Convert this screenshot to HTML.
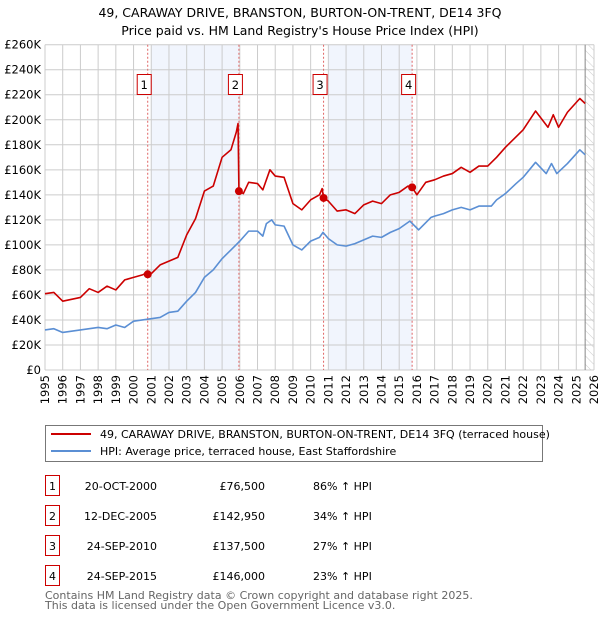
<!DOCTYPE html>
<html><head><meta charset="utf-8"><style>
body{margin:0;background:#fff;width:600px;height:620px;overflow:hidden;font-family:"Liberation Sans","DejaVu Sans",sans-serif;}
svg text{font-family:"DejaVu Sans","Liberation Sans",sans-serif;}
</style></head><body>
<svg id="chart" width="600" height="620">
<text x="300" y="17" text-anchor="middle" font-size="12.5">49, CARAWAY DRIVE, BRANSTON, BURTON-ON-TRENT, DE14 3FQ</text>
<text x="300" y="35" text-anchor="middle" font-size="12.5">Price paid vs. HM Land Registry's House Price Index (HPI)</text>
<defs><pattern id="hatch" width="6" height="6" patternUnits="userSpaceOnUse" patternTransform="rotate(-45)"><line x1="0" y1="0" x2="0" y2="6" stroke="#ccc" stroke-width="1"/></pattern></defs>
<g id="bg"></g><g id="grid"></g><g id="marks"></g><g id="axes"></g>
<g>
<rect x="45.5" y="425.5" width="497" height="36" fill="#fff" stroke="#777"/>
<line x1="51" y1="434" x2="91" y2="434" stroke="#cc0000" stroke-width="2"/>
<text x="100" y="438" font-size="11">49, CARAWAY DRIVE, BRANSTON, BURTON-ON-TRENT, DE14 3FQ (terraced house)</text>
<line x1="51" y1="451" x2="91" y2="451" stroke="#5b8fd4" stroke-width="2"/>
<text x="100" y="455" font-size="11">HPI: Average price, terraced house, East Staffordshire</text>
</g>
<g id="table" font-size="11"></g>
<text x="45" y="599" font-size="11" fill="#666">Contains HM Land Registry data © Crown copyright and database right 2025.</text>
<text x="45" y="609" font-size="11" fill="#666">This data is licensed under the Open Government Licence v3.0.</text>
</svg>
<script>
const hpiYears=[1995,1995.5,1996,1997,1998,1998.5,1999,1999.5,2000,2000.5,2001,2001.5,2002,2002.5,2003,2003.5,2004,2004.5,2005,2005.5,2006,2006.5,2007,2007.3,2007.5,2007.8,2008,2008.5,2009,2009.5,2010,2010.5,2010.7,2011,2011.5,2012,2012.5,2013,2013.5,2014,2014.5,2015,2015.6,2016.1,2016.8,2017,2017.5,2018,2018.5,2019,2019.5,2020.2,2020.5,2021,2021.6,2022,2022.7,2023.3,2023.6,2023.9,2024.5,2025.2,2025.5];
const hpiValues=[32,33,30,32,34,33,36,34,39,40,41,42,46,47,55,62,74,80,89,96,103,111,111,107,117,120,116,115,100,96,103,106,110,105,100,99,101,104,107,106,110,113,119,112,122,123,125,128,130,128,131,131,136,141,149,154,166,157,165,157,165,176,172];
const redYears=[1995,1995.5,1996,1997,1997.5,1998,1998.5,1999,1999.5,2000,2000.5,2000.8,2001,2001.5,2002,2002.5,2003,2003.5,2004,2004.5,2005,2005.5,2005.8,2005.9,2005.95,2006.2,2006.5,2007,2007.3,2007.7,2008,2008.5,2009,2009.5,2010,2010.5,2010.65,2010.73,2011,2011.5,2012,2012.5,2013,2013.5,2014,2014.5,2015,2015.5,2015.73,2016,2016.5,2017,2017.5,2018,2018.5,2019,2019.5,2020,2020.5,2021,2021.5,2022,2022.7,2023.4,2023.7,2024,2024.5,2025.2,2025.5];
const redValues=[61,62,55,58,65,62,67,64,72,74,76,78,77,84,87,90,108,121,143,147,170,176,190,197,143,141,150,149,144,160,155,154,133,128,136,140,145,137.5,135,127,128,125,132,135,133,140,142,147,146,140,150,152,155,157,162,158,163,163,170,178,185,192,207,194,204,194,206,217,213];
const saleYears=[2000.8,2005.95,2010.73,2015.73];
const saleValues=[76.5,142.95,137.5,146];
const saleLabels=["1","2","3","4"];
const saleDates=["20-OCT-2000","12-DEC-2005","24-SEP-2010","24-SEP-2015"];
const salePrices=["£76,500","£142,950","£137,500","£146,000"];
const saleHpi=["86% ↑ HPI","34% ↑ HPI","27% ↑ HPI","23% ↑ HPI"];
const shadeStart=[2001,2011];
const shadeEnd=[2005.95,2015.73];
const yTicks=[0,20,40,60,80,100,120,140,160,180,200,220,240,260];
const xTicks=[];for(let y=1995;y<=2026;y++)xTicks.push(y);

const X0=45,X1=594,Y0=370,Y1=44.7;
const xs=v=>X0+(v-1995)/(2026-1995)*(X1-X0);
const ys=v=>Y0-(v/260)*(Y0-Y1);
const NS="http://www.w3.org/2000/svg";
function mk(tag,parent,attrs){const e=document.createElementNS(NS,tag);for(const k in attrs)e.setAttribute(k,attrs[k]);parent.appendChild(e);return e;}
const bg=document.getElementById('bg'),grid=document.getElementById('grid'),marks=document.getElementById('marks'),axes=document.getElementById('axes'),table=document.getElementById('table');

shadeStart.forEach((s,i)=>{const r=mk('rect',bg,{x:xs(s),y:Y1,width:xs(shadeEnd[i])-xs(s),height:Y0-Y1,fill:'#eef3fc',opacity:0.8});

});
const h=mk('rect',bg,{x:xs(2025.5),y:Y1,width:X1-xs(2025.5),height:Y0-Y1,fill:'url(#hatch)'});



yTicks.forEach(t=>{mk('line',grid,{x1:X0,x2:X1,y1:ys(t),y2:ys(t),stroke:'#cccccc','stroke-width':1});
const tx=mk('text',axes,{x:X0-4,y:ys(t)+4,'text-anchor':'end','font-size':11.5});tx.textContent=t===0?'£0':'£'+t+'K';

});
xTicks.forEach(t=>{mk('line',grid,{x1:xs(t),x2:xs(t),y1:Y1,y2:Y0,stroke:'#cccccc','stroke-width':1});
const tx=mk('text',axes,{x:0,y:0,'text-anchor':'end','font-size':11.5,transform:`translate(${xs(t)+4},${Y0+5}) rotate(-90)`});tx.textContent=t;

});
mk('line',grid,{x1:xs(2025.5),x2:xs(2025.5),y1:Y1,y2:Y0,stroke:'#888','stroke-width':1});

saleYears.forEach((s,i)=>{const l=mk('line',marks,{x1:xs(s),x2:xs(s),y1:Y1,y2:Y0,stroke:'#e06666','stroke-width':1,'stroke-dasharray':'2,2'});

});

function line(xa,va,col,name){const p=mk('polyline',marks,{points:xa.map((x,i)=>xs(x)+','+ys(va[i])).join(' '),fill:'none',stroke:col,'stroke-width':1.6,'stroke-linejoin':'round'});

}
line(hpiYears,hpiValues,'#5b8fd4','hpi-line');
line(redYears,redValues,'#cc0000','price-paid-line');

saleYears.forEach((s,i)=>{const c=mk('circle',marks,{cx:xs(s),cy:ys(saleValues[i]),r:4,fill:'#cc0000'});


const g=mk('g',marks,{});


mk('rect',g,{x:xs(s)-10.5,y:74.5,width:14,height:20,fill:'#fff',stroke:'#cc0000'});
const t=mk('text',g,{x:xs(s)-3.5,y:89,'text-anchor':'middle','font-size':11.5});t.textContent=saleLabels[i];
const ry=486+i*30;
const rg=mk('g',table,{});


mk('rect',rg,{x:45.5,y:ry-10.5,width:14,height:20,fill:'#fff',stroke:'#cc0000'});
const n=mk('text',rg,{x:52.5,y:ry+4,'text-anchor':'middle'});n.textContent=saleLabels[i];
const d=mk('text',rg,{x:157,y:ry+4,'text-anchor':'end'});d.textContent=saleDates[i];
const pr=mk('text',rg,{x:265,y:ry+4,'text-anchor':'end'});pr.textContent=salePrices[i];
const hp=mk('text',rg,{x:313,y:ry+4});hp.textContent=saleHpi[i];});
</script>
</body></html>
